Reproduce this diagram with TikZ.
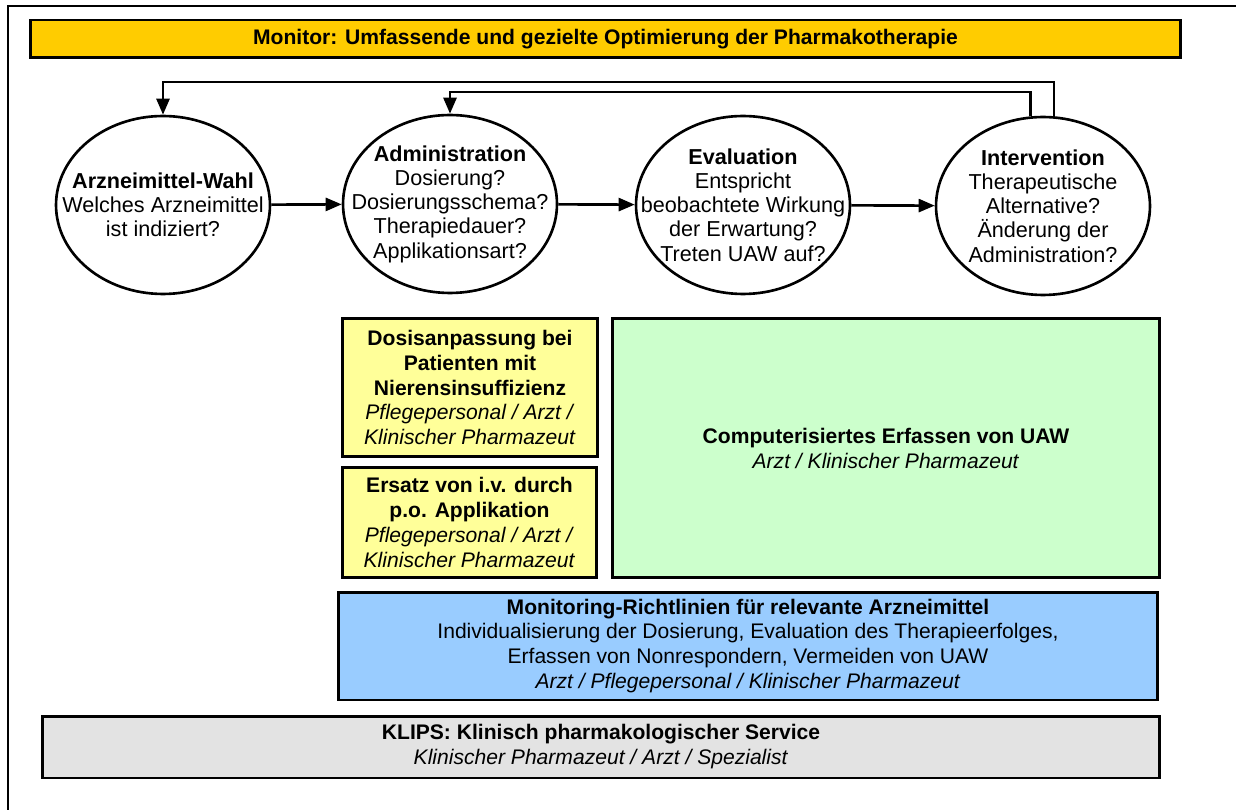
\documentclass[tikz,border=0pt]{standalone}
\usepackage{fontspec}
\setmainfont{Liberation Sans}
\usepackage{xcolor}
\usetikzlibrary{positioning,arrows.meta,shapes.geometric,calc}
\definecolor{monyellow}{RGB}{255,204,0}
\definecolor{paleyellow}{RGB}{255,255,153}
\definecolor{palegreen}{RGB}{204,255,204}
\definecolor{paleblue}{RGB}{153,204,255}
\definecolor{palegray}{RGB}{227,227,227}
\tikzset{
  phase/.style={ellipse, draw=black, line width=1.5pt, fill=white, inner xsep=-20pt, inner ysep=-4pt, minimum width=4.28cm, minimum height=3.56cm, align=center, font=\fontsize{12.3}{13.8}\selectfont},
  tbox/.style={rectangle, draw=black, line width=1.7pt, align=center, inner sep=2pt, font=\fontsize{12}{14.2}\selectfont},
  arr/.style={-{Triangle[length=3.2mm,width=2.6mm]}, line width=1.5pt},
}
\begin{document}
\begin{tikzpicture}[x=0.02cm, y=-0.02cm]
  \useasboundingbox (0,0) rectangle (1236,810);
  % outer frame
  \draw[line width=1.4pt] (8,810) -- (8,6) -- (1236,6);
  % banner
  \node[tbox, fill=monyellow, minimum width=23.02cm, minimum height=0.76cm, font=\fontsize{12}{14}\selectfont\bfseries] (mon) at (605.5,39) {Monitor: Umfassende und gezielte Optimierung der Pharmakotherapie};
  % phases
  \node[phase] (wahl) at (163,205) {\textbf{Arzneimittel-Wahl}\\Welches Arzneimittel\\ist indiziert?};
  \node[phase] (adm) at (450,204) {\textbf{Administration}\\Dosierung?\\Dosierungsschema?\\Therapiedauer?\\Applikationsart?};
  \node[phase] (eval) at (743,205) {\textbf{Evaluation}\\Entspricht\\beobachtete Wirkung\\der Erwartung?\\Treten UAW auf?};
  \node[phase] (int) at (1043,206) {\textbf{Intervention}\\Therapeutische\\Alternative?\\Änderung der\\Administration?};
  \draw[arr] (wahl) -- (adm);
  \draw[arr] (adm) -- (eval);
  \draw[arr] (eval) -- (int);
  % feedback loops
  \coordinate (loopA) at (0,82);
  \coordinate (loopB) at (0,92);
  \draw[arr] (int.83) |- (loopA -| wahl.north) -- (wahl.north);
  \draw[arr] (int.98) |- (loopB -| adm.north) -- (adm.north);
  % measures
  \node[tbox, fill=paleyellow, minimum width=5.12cm, minimum height=2.78cm] (dosis) at (470,387.5) {\textbf{Dosisanpassung bei}\\\textbf{Patienten mit}\\\textbf{Nierensinsuffizienz}\\\textit{Pflegepersonal / Arzt /}\\\textit{Klinischer Pharmazeut}};
  \node[tbox, fill=paleyellow, minimum width=5.1cm, minimum height=2.22cm] (ersatz) at (469.5,522.5) {\textbf{Ersatz von i.v. durch}\\\textbf{p.o. Applikation}\\\textit{Pflegepersonal / Arzt /}\\\textit{Klinischer Pharmazeut}};
  \node[tbox, fill=palegreen, minimum width=10.96cm, minimum height=5.2cm] (uaw) at (886,448) {\textbf{Computerisiertes Erfassen von UAW}\\\textit{Arzt / Klinischer Pharmazeut}};
  \node[tbox, fill=paleblue, minimum width=16.4cm, minimum height=2.16cm] (richt) at (748,646) {\textbf{Monitoring-Richtlinien für relevante Arzneimittel}\\Individualisierung der Dosierung, Evaluation des Therapieerfolges,\\Erfassen von Nonrespondern, Vermeiden von UAW\\\textit{Arzt / Pflegepersonal / Klinischer Pharmazeut}};
  \node[tbox, fill=palegray, minimum width=22.36cm, minimum height=1.24cm] (klips) at (601,747) {\textbf{KLIPS: Klinisch pharmakologischer Service}\\\textit{Klinischer Pharmazeut / Arzt / Spezialist}};
\end{tikzpicture}
\end{document}
